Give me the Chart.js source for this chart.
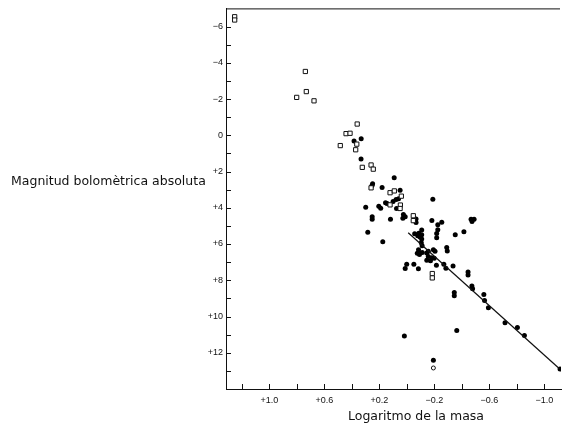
<!DOCTYPE html>
<html>
<head>
<meta charset="utf-8">
<title>Massa - lluminositat</title>
<script src="https://cdn.jsdelivr.net/npm/chart.js@4"></script>
<style>
  body { margin: 0; background: #fff; }
  #wrap { width: 570px; height: 430px; }
</style>
</head>
<body>
<div id="wrap"><canvas id="mlChart" width="570" height="430"></canvas></div>
<script>
'use strict';

// estrelles de la sequencia principal (cercles plens)
const dotsX = [0.332, 0.384, 0.333, 0.092, 0.249, 0.253, 0.180, 0.049, 0.078, 0.060,
  0.100, 0.155, 0.144, -0.189, 0.299, 0.204, 0.190, 0.075, 0.252, 0.252,
  0.119, 0.025, 0.012, 0.029, -0.067, -0.067, -0.182, -0.254, -0.225, -0.467,
  -0.489, -0.474, -0.225, -0.217, -0.217, -0.352, -0.415, -0.108, -0.087, -0.057,
  -0.108, -0.079, -0.096, -0.108, 0.284, 0.175, -0.105, -0.111, -0.290, -0.294,
  -0.085, -0.076, -0.092, -0.112, -0.145, -0.156, -0.193, -0.205, -0.156, -0.181,
  -0.145, -0.172, -0.199, 0.001, 0.012, -0.051, -0.084, -0.215, -0.269, -0.284,
  -0.336, -0.445, -0.445, -0.473, -0.478, -0.345, -0.345, -0.560, -0.565, -0.593,
  -0.714, -0.804, -0.855, -1.114, 0.018, -0.363, -0.193];
const dotsY = [0.19, 0.31, 1.31, 2.35, 2.68, 2.77, 2.88, 3.04, 3.54, 3.50,
  3.65, 3.73, 3.77, 3.53, 3.97, 3.91, 4.03, 4.04, 4.49, 4.64,
  4.64, 4.37, 4.49, 4.58, 4.62, 4.82, 4.70, 4.80, 4.94, 4.64,
  4.64, 4.76, 5.22, 5.42, 5.66, 5.49, 5.32, 5.23, 5.40, 5.44,
  5.49, 5.55, 5.62, 5.72, 5.35, 5.88, 5.93, 6.10, 6.19, 6.38,
  6.32, 6.51, 6.58, 6.47, 6.49, 6.40, 6.31, 6.40, 6.69, 6.76,
  6.89, 6.92, 6.78, 7.11, 7.35, 7.11, 7.36, 7.17, 7.12, 7.34,
  7.22, 7.54, 7.71, 8.31, 8.47, 8.67, 8.85, 8.78, 9.12, 9.52,
  10.34, 10.61, 11.05, 12.90, 11.08, 10.77, 12.41];

// altres estrelles (quadrats buits)
const boxX = [1.252, 1.252, 0.738, 0.731, 0.801, 0.675, 0.361, 0.442, 0.413, 0.484,
  0.364, 0.372, 0.324, 0.260, 0.244, 0.260, 0.122, 0.091, 0.040, 0.122,
  0.047, 0.049, -0.047, -0.047, -0.185, -0.185];
const boxY = [-6.54, -6.36, -3.52, -2.41, -2.09, -1.90, -0.62, -0.09, -0.11, 0.57,
  0.49, 0.80, 1.77, 1.64, 1.87, 2.90, 3.17, 3.07, 3.36, 3.84,
  3.85, 4.04, 4.44, 4.71, 7.63, 7.87];

// cercle buit
const ringX = [-0.193];
const ringY = [12.84];

// recta d'ajust
const fitX = [-0.01, -1.11];
const fitY = [5.38, 12.88];

// eixos
const xTicks = [1.2, 1.0, 0.8, 0.6, 0.4, 0.2, 0, -0.2, -0.4, -0.6, -0.8, -1.0];
const xTickLabels = ['', '+1.0', '', '+0.6', '', '+0.2', '', '\u22120.2', '', '\u22120.6', '', '\u22121.0'];
const yTicks = [-6, -5, -4, -3, -2, -1, 0, 1, 2, 3, 4, 5, 6, 7, 8, 9, 10, 11, 12, 13];
const yTickLabels = ['\u22126', '', '\u22124', '', '\u22122', '', '0', '', '+2', '', '+4', '', '+6', '', '+8', '', '+10', '', '+12', ''];

const xTitle = 'Logaritmo de la masa';
const yTitle = 'Magnitud bolomètrica absoluta';

const toPoints = (xs, ys) => xs.map((x, i) => ({x: x, y: ys[i]}));

// marques cap a dins, vora de dalt i titols
const framePlugin = {
    id: 'frame',
    afterDraw(chart) {
        const ctx = chart.ctx;
        const area = chart.chartArea;
        const xs = chart.scales.x;
        const ys = chart.scales.y;
        ctx.save();
        ctx.strokeStyle = '#111';
        ctx.lineWidth = 1;
        ctx.beginPath();
        xTicks.forEach(v => {
            const px = Math.round(xs.getPixelForValue(v)) + 0.5;
            ctx.moveTo(px, area.bottom);
            ctx.lineTo(px, area.bottom - 5);
        });
        yTicks.forEach(v => {
            const py = Math.round(ys.getPixelForValue(v)) + 0.5;
            ctx.moveTo(area.left, py);
            ctx.lineTo(area.left + 5, py);
        });
        ctx.moveTo(area.left, area.top + 0.5);
        ctx.lineTo(area.right - 1, area.top + 0.5);
        ctx.stroke();

        ctx.fillStyle = '#111';
        ctx.font = '12.5px "DejaVu Sans"';
        ctx.textBaseline = 'alphabetic';
        ctx.textAlign = 'left';
        ctx.fillText(yTitle, 11, 184.5);
        ctx.textAlign = 'center';
        ctx.fillText(xTitle, 416, 420);
        ctx.restore();
    }
};

new Chart('mlChart', {
    type: 'scatter',
    data: {
        datasets: [{
            label: 'fit',
            type: 'line',
            data: toPoints(fitX, fitY),
            borderColor: '#111',
            borderWidth: 1.2,
            pointRadius: 0,
            fill: false
        }, {
            label: 'quadrats',
            data: toPoints(boxX, boxY),
            pointStyle: 'rect',
            pointRadius: 3,
            backgroundColor: '#fff',
            borderColor: '#111',
            borderWidth: 1
        }, {
            label: 'cercle',
            data: toPoints(ringX, ringY),
            pointStyle: 'circle',
            pointRadius: 2,
            backgroundColor: '#fff',
            borderColor: '#111',
            borderWidth: 1
        }, {
            label: 'punts',
            data: toPoints(dotsX, dotsY),
            pointStyle: 'circle',
            pointRadius: 2.5,
            backgroundColor: '#000',
            borderWidth: 0
        }]
    },
    options: {
        responsive: false,
        animation: false,
        layout: {padding: {left: 0, top: 4, right: 9, bottom: 0}},
        plugins: {
            legend: {display: false},
            tooltip: {enabled: false}
        },
        scales: {
            x: {
                type: 'linear',
                reverse: true,
                min: -1.121,
                max: 1.315,
                afterBuildTicks: (scale) => { scale.ticks = xTicks.map(v => ({value: v})) },
                afterFit: (scale) => { scale.height = 41 },
                grid: {display: false, drawTicks: false},
                border: {display: true, color: '#111', width: 1},
                ticks: {
                    autoSkip: false,
                    maxRotation: 0,
                    padding: 6,
                    color: '#111',
                    font: {family: '"Liberation Sans"', size: 9},
                    callback: (v, i) => xTickLabels[i]
                }
            },
            y: {
                type: 'linear',
                reverse: true,
                min: -7,
                max: 14,
                afterBuildTicks: (scale) => { scale.ticks = yTicks.map(v => ({value: v})) },
                afterFit: (scale) => { scale.width = 226 },
                grid: {display: false, drawTicks: false},
                border: {display: true, color: '#111', width: 1},
                ticks: {
                    autoSkip: false,
                    padding: 3,
                    color: '#111',
                    font: {family: '"Liberation Sans"', size: 9},
                    callback: (v, i) => yTickLabels[i]
                }
            }
        }
    },
    plugins: [framePlugin]
});
</script>
</body>
</html>
